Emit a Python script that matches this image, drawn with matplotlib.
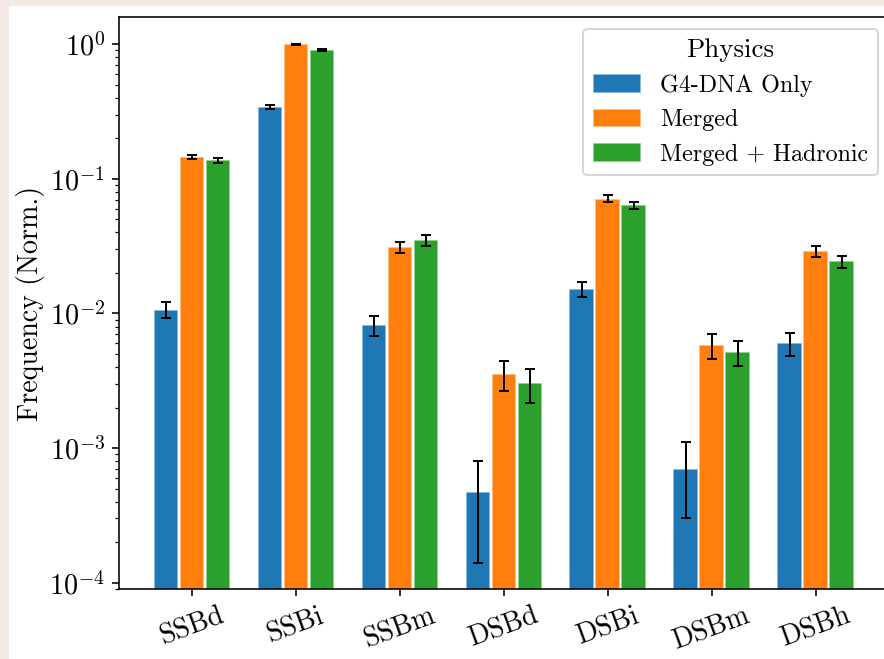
import numpy as np
import matplotlib
matplotlib.use("Agg")
import matplotlib.pyplot as plt
from matplotlib.patches import Rectangle
from matplotlib.ticker import FuncFormatter

plt.rcParams['font.family'] = 'serif'
plt.rcParams['font.serif'] = ['cmr10']
plt.rcParams['mathtext.fontset'] = 'cm'
plt.rcParams['axes.unicode_minus'] = False

categories = ['SSBd', 'SSBi', 'SSBm', 'DSBd', 'DSBi', 'DSBm', 'DSBh']
physics = ['G4-DNA Only', 'Merged', 'Merged + Hadronic']

g4dna = [0.0107, 0.342, 0.0082, 0.00047, 0.0152, 0.00070, 0.0060]
g4dna_err = [0.0015, 0.014, 0.00135, 0.00033, 0.0020, 0.00040, 0.0012]
merged = [0.145, 1.0, 0.0312, 0.00353, 0.0713, 0.0058, 0.0290]
merged_err = [0.0055, 0.012, 0.0029, 0.00088, 0.0043, 0.0012, 0.0028]
hadronic = [0.138, 0.907, 0.0350, 0.00303, 0.0640, 0.00515, 0.0244]
hadronic_err = [0.0060, 0.015, 0.0031, 0.00085, 0.0038, 0.0011, 0.0025]

colors = ['#1f77b4', '#ff7f0e', '#2ca02c']

dpi = 144
fig = plt.figure(figsize=(884 / dpi, 659 / dpi), dpi=dpi, facecolor='#f3e9e5')
fig.patches.append(Rectangle((9 / 884, 0), 1, 1 - 6 / 659, transform=fig.transFigure,
                             facecolor='white', edgecolor='none', zorder=-1))

ax = fig.add_axes([119 / 884, 70 / 659, 770.5 / 884, 572 / 659])

x = np.arange(len(categories))
series = [(g4dna, g4dna_err), (merged, merged_err), (hadronic, hadronic_err)]
for i, (vals, errs) in enumerate(series):
    ax.bar(x + (i - 1) * 0.25, vals, width=0.235, yerr=errs, color=colors[i],
           edgecolor=(1, 1, 1, 0.6), linewidth=0.8, label=physics[i],
           error_kw=dict(ecolor='black', elinewidth=1.0, capsize=2.7, capthick=1.0))

ax.set_yscale('log')
ax.set_ylim(8.97e-5, 1.595)
ax.set_xlim(-0.7, 6.71)
ax.yaxis.set_major_formatter(FuncFormatter(lambda v, _: r'$10^{%d}$' % int(round(np.log10(v)))))
ax.set_xticks(x)
ax.set_xticklabels(categories, rotation=20, fontsize=14)
ax.tick_params(axis='y', labelsize=14)
ax.set_ylabel('Frequency (Norm.)', fontsize=14, labelpad=2)

leg = ax.legend(title='Physics', loc='upper right', fontsize=12, title_fontsize=13.5,
                handleheight=0.8)

fig.savefig('out.png', dpi=dpi, facecolor=fig.get_facecolor())
